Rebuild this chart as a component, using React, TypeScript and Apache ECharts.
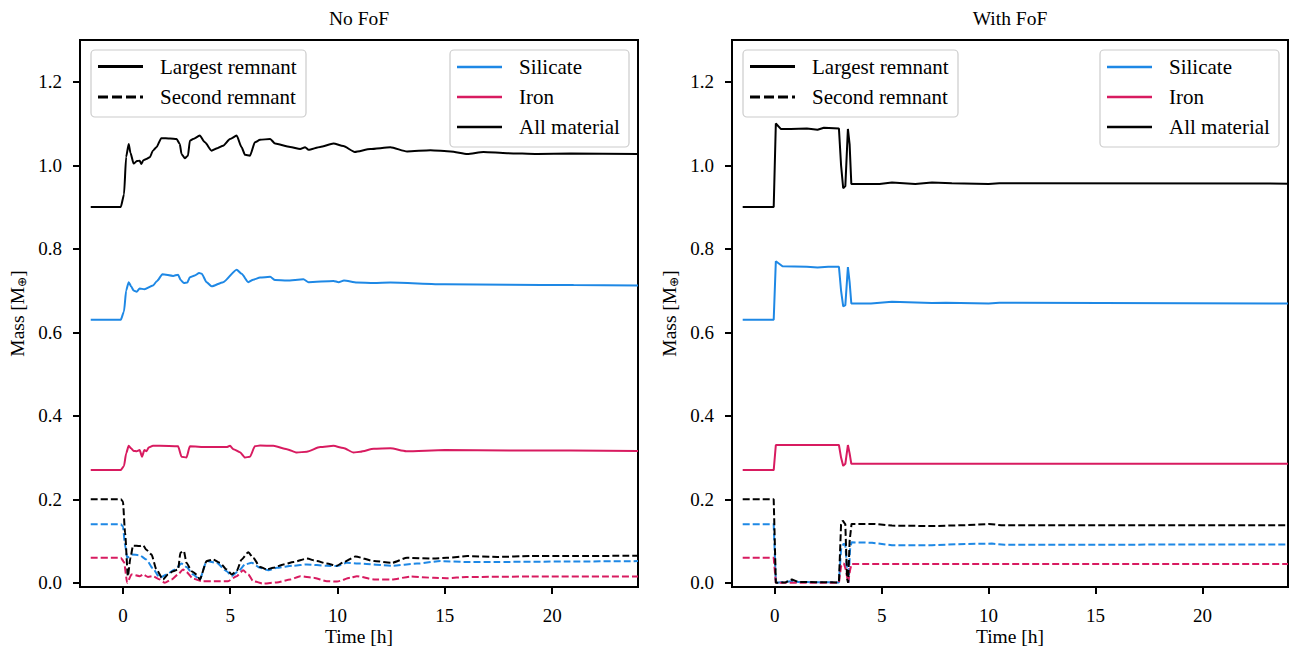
import React, { useEffect, useRef } from "react";
import * as echarts from "echarts";

// ---------- Data (time in hours, mass in Earth masses) ----------
const xTicks = [0, 5, 10, 15, 20];
const yTicks = [0, 0.2, 0.4, 0.6, 0.8, 1.0, 1.2];
const panelTitles = ["No FoF", "With FoF"];
const styleLegend = ["Largest remnant", "Second remnant"];
const materialLegend = ["Silicate", "Iron", "All material"];

// No FoF — largest remnant
const noFofLargestAll: [number, number][] = [
  [-1.5, 0.9], [-0.1, 0.9], [0.05, 0.93], [0.15, 1.02], [0.27, 1.051], [0.35, 1.03], [0.5, 1.004], [0.65, 1.01],
  [0.78, 1.011], [0.86, 1.003], [0.95, 1.012], [1.09, 1.015], [1.25, 1.019], [1.4, 1.035], [1.56, 1.043], [1.79, 1.065],
  [2.2, 1.064], [2.5, 1.063], [2.65, 1.051], [2.73, 1.027], [2.88, 1.017], [3.03, 1.023], [3.12, 1.059], [3.27, 1.063],
  [3.58, 1.071], [3.82, 1.055], [4.13, 1.035], [4.4, 1.041], [4.67, 1.047], [4.99, 1.063], [5.3, 1.071], [5.53, 1.043],
  [5.69, 1.025], [5.92, 1.023], [6.15, 1.055], [6.39, 1.061], [6.86, 1.063], [7.09, 1.052], [7.79, 1.044], [8.26, 1.039],
  [8.49, 1.043], [8.65, 1.037], [9.19, 1.044], [9.81, 1.052], [10.27, 1.046], [10.8, 1.032], [11.53, 1.039], [12.46, 1.043],
  [13.24, 1.033], [14.33, 1.036], [15.27, 1.033], [16.05, 1.027], [16.8, 1.032], [17.9, 1.029], [19.3, 1.027], [20.87, 1.028],
  [24, 1.027],
];
const noFofLargestSilicate: [number, number][] = [
  [-1.5, 0.63], [-0.1, 0.63], [0.05, 0.65], [0.15, 0.7], [0.27, 0.72], [0.38, 0.71], [0.5, 0.7], [0.64, 0.697], [0.78, 0.705],
  [1.0, 0.703], [1.4, 0.712], [1.59, 0.723], [1.84, 0.739], [2.34, 0.735], [2.57, 0.738], [2.69, 0.725], [2.84, 0.718],
  [3.0, 0.719], [3.12, 0.732], [3.35, 0.736], [3.55, 0.742], [3.67, 0.74], [3.9, 0.72], [4.13, 0.71], [4.67, 0.72],
  [5.3, 0.75], [5.53, 0.74], [5.84, 0.72], [6.07, 0.726], [6.39, 0.731], [6.86, 0.733], [7.09, 0.725], [7.64, 0.724],
  [8.41, 0.727], [8.65, 0.72], [9.81, 0.723], [10.05, 0.72], [10.3, 0.724], [10.9, 0.719], [11.69, 0.718], [12.46, 0.719],
  [15, 0.715], [18, 0.714], [21, 0.713], [24, 0.712],
];
const noFofLargestIron: [number, number][] = [
  [-1.5, 0.27], [-0.1, 0.27], [0.05, 0.28], [0.15, 0.31], [0.27, 0.328], [0.38, 0.322], [0.5, 0.316], [0.64, 0.315],
  [0.78, 0.318], [0.89, 0.302], [1.0, 0.318], [1.1, 0.315], [1.2, 0.324], [1.4, 0.328], [1.72, 0.328], [2.57, 0.327],
  [2.73, 0.302], [2.96, 0.3], [3.12, 0.327], [3.9, 0.325], [4.83, 0.325], [4.99, 0.328], [5.15, 0.32], [5.45, 0.313],
  [5.69, 0.3], [5.92, 0.302], [6.15, 0.327], [6.39, 0.329], [7.01, 0.328], [7.64, 0.32], [8.1, 0.312], [8.57, 0.314],
  [9.19, 0.325], [9.81, 0.328], [10.27, 0.323], [10.75, 0.312], [11.06, 0.314], [11.69, 0.321], [12.46, 0.322],
  [13.2, 0.315], [15, 0.318], [18, 0.317], [24, 0.316],
];
// No FoF — second remnant
const noFofSecondAll: [number, number][] = [
  [-1.5, 0.2], [-0.1, 0.2], [0.0, 0.195], [0.1, 0.12], [0.23, 0.016], [0.35, 0.06], [0.47, 0.089], [0.78, 0.088],
  [0.94, 0.09], [1.09, 0.079], [1.33, 0.068], [1.56, 0.032], [1.87, 0.008], [2.1, 0.02], [2.34, 0.028], [2.57, 0.032],
  [2.68, 0.072], [2.84, 0.076], [2.96, 0.048], [3.2, 0.028], [3.43, 0.02], [3.58, 0.008], [3.9, 0.052], [4.2, 0.056],
  [4.52, 0.048], [4.83, 0.032], [5.07, 0.02], [5.3, 0.028], [5.53, 0.056], [5.84, 0.073], [6.07, 0.06], [6.39, 0.038],
  [6.7, 0.032], [7.0, 0.036], [7.48, 0.044], [7.95, 0.05], [8.57, 0.058], [9.04, 0.052], [9.5, 0.046], [9.97, 0.041],
  [10.27, 0.049], [10.83, 0.063], [11.7, 0.052], [12.54, 0.048], [13.24, 0.06], [14.48, 0.058], [15.1, 0.06],
  [16.05, 0.064], [17.45, 0.062], [19, 0.064], [20.6, 0.064], [24, 0.065],
];
const noFofSecondSilicate: [number, number][] = [
  [-1.5, 0.14], [-0.1, 0.14], [0.0, 0.135], [0.1, 0.09], [0.2, 0.06], [0.4, 0.068], [0.78, 0.066], [1.09, 0.056],
  [1.4, 0.034], [1.72, 0.012], [2.03, 0.02], [2.42, 0.032], [2.73, 0.046], [2.96, 0.038], [3.27, 0.02], [3.58, 0.008],
  [3.9, 0.052], [4.36, 0.048], [4.83, 0.028], [5.07, 0.016], [5.38, 0.028], [5.69, 0.044], [6.0, 0.048], [6.39, 0.036],
  [6.78, 0.03], [7.17, 0.036], [7.95, 0.041], [8.57, 0.044], [9.5, 0.041], [9.97, 0.04], [10.43, 0.048], [11.06, 0.046],
  [12.54, 0.041], [13.7, 0.046], [14.8, 0.052], [16, 0.05], [17.45, 0.05], [20.6, 0.051], [24, 0.052],
];
const noFofSecondIron: [number, number][] = [
  [-1.5, 0.06], [-0.1, 0.06], [0.05, 0.05], [0.2, 0.0], [0.4, 0.02], [0.78, 0.016], [0.94, 0.02], [1.17, 0.014],
  [1.4, 0.016], [1.72, 0.008], [1.95, 0.0], [2.26, 0.008], [2.57, 0.02], [2.8, 0.032], [2.96, 0.026], [3.27, 0.01],
  [3.66, 0.004], [4.36, 0.004], [4.9, 0.004], [5.3, 0.016], [5.6, 0.03], [5.84, 0.02], [6.07, 0.004], [6.55, -0.002],
  [7.17, 0.001], [7.8, 0.008], [8.26, 0.016], [8.88, 0.012], [9.5, 0.004], [9.97, 0.003], [10.6, 0.012], [10.9, 0.016],
  [11.7, 0.008], [12.54, 0.008], [13.4, 0.015], [14.48, 0.012], [15.1, 0.011], [16, 0.014], [19, 0.015], [24, 0.015],
];
// With FoF — largest remnant
const fofLargestAll: [number, number][] = [
  [-1.5, 0.9], [-0.05, 0.9], [0.05, 1.1], [0.28, 1.087], [0.75, 1.087], [1.5, 1.088], [2.0, 1.085], [2.3, 1.09],
  [3.0, 1.088], [3.1, 1.0], [3.2, 0.945], [3.3, 0.95], [3.42, 1.087], [3.5, 1.05], [3.58, 0.955], [4.9, 0.955],
  [5.48, 0.959], [6.57, 0.955], [7.35, 0.959], [8.28, 0.957], [10, 0.955], [10.5, 0.957], [24, 0.956],
];
const fofLargestSilicate: [number, number][] = [
  [-1.5, 0.63], [-0.05, 0.63], [0.05, 0.77], [0.36, 0.758], [1.5, 0.757], [2.0, 0.755], [2.5, 0.757], [3.0, 0.757],
  [3.1, 0.7], [3.2, 0.662], [3.3, 0.665], [3.42, 0.756], [3.5, 0.72], [3.58, 0.669], [4.5, 0.669], [5.48, 0.673],
  [7.35, 0.67], [8, 0.671], [10, 0.669], [10.5, 0.671], [24, 0.669],
];
const fofLargestIron: [number, number][] = [
  [-1.5, 0.27], [-0.05, 0.27], [0.05, 0.33], [3.0, 0.33], [3.1, 0.3], [3.2, 0.28], [3.3, 0.285], [3.42, 0.33],
  [3.5, 0.31], [3.58, 0.285], [24, 0.285],
];
// With FoF — second remnant
const fofSecondAll: [number, number][] = [
  [-1.5, 0.2], [-0.05, 0.2], [0.05, 0.0], [0.5, 0.001], [0.8, 0.008], [1.1, 0.002], [3.0, 0.001], [3.1, 0.14],
  [3.18, 0.149], [3.3, 0.14], [3.38, 0.01], [3.43, 0.0], [3.5, 0.1], [3.59, 0.141], [4.7, 0.141], [5.48, 0.137],
  [7.35, 0.136], [8.9, 0.138], [10.0, 0.141], [10.6, 0.138], [24, 0.138],
];
const fofSecondSilicate: [number, number][] = [
  [-1.5, 0.14], [-0.05, 0.14], [0.05, 0.0], [0.8, 0.004], [1.1, 0.002], [3.0, 0.001], [3.1, 0.08], [3.22, 0.094],
  [3.3, 0.09], [3.4, 0.02], [3.45, 0.0], [3.52, 0.08], [3.59, 0.097], [4.55, 0.096], [5.48, 0.09], [7.35, 0.09],
  [8.9, 0.093], [10.15, 0.094], [10.75, 0.091], [24, 0.092],
];
const fofSecondIron: [number, number][] = [
  [-1.5, 0.06], [-0.05, 0.06], [0.05, 0.0], [3.0, 0.0], [3.1, 0.04], [3.23, 0.047], [3.33, 0.03], [3.43, 0.0],
  [3.52, 0.03], [3.59, 0.045], [24, 0.045],
];

// ---------- Styling ----------
const FONT = "Liberation Serif";
const SILICATE = "#1E88E5";
const IRON = "#D81B60";
const ALL = "#000000";
const DASH = [7, 3];
const TICK_FS = 19;
const LABEL_FS = 19.5;
const LEGEND_FS = 21;

const grids = [
  { left: 80, top: 40, width: 558, height: 547 },
  { left: 732, top: 40, width: 556, height: 547 },
];

const tickRich = { t: { fontFamily: FONT, fontSize: TICK_FS, color: "#000", lineHeight: 17 } };

function lineSeries(data: [number, number][], color: string, dashed: boolean, idx: number, z: number) {
  return {
    type: "line",
    xAxisIndex: idx,
    yAxisIndex: idx,
    data,
    showSymbol: false,
    symbol: "none",
    smooth: idx === 0 ? 0.2 : false,
    smoothMonotone: "x",
    z,
    lineStyle: { color, width: 2, type: dashed ? DASH : "solid" },
    emphasis: { disabled: true },
  };
}

function legendGraphics(gl: number, gr: number) {
  const els: any[] = [];
  const b1x = gl + 11;
  els.push({
    type: "rect",
    shape: { x: b1x, y: 50, width: 215, height: 67, r: 4 },
    style: { fill: "rgba(255,255,255,0.8)", stroke: "#cccccc", lineWidth: 1.2 },
    z: 100,
  });
  const l1y = [66.5, 97];
  styleLegend.forEach((name, i) => {
    els.push({
      type: "line",
      shape: { x1: b1x + 7, y1: l1y[i], x2: b1x + 52, y2: l1y[i] },
      style: { stroke: "#000", lineWidth: 3, lineDash: i === 1 ? [10, 4] : null },
      z: 101,
    });
    els.push({
      type: "text",
      x: b1x + 69,
      y: l1y[i],
      style: { text: name, font: `${LEGEND_FS}px ${FONT}`, fill: "#000", verticalAlign: "middle" },
      z: 101,
    });
  });
  const b2x = gr - 188;
  els.push({
    type: "rect",
    shape: { x: b2x, y: 50, width: 179, height: 97, r: 4 },
    style: { fill: "rgba(255,255,255,0.8)", stroke: "#cccccc", lineWidth: 1.2 },
    z: 100,
  });
  const l2y = [67, 97, 127];
  const cols = [SILICATE, IRON, ALL];
  materialLegend.forEach((name, i) => {
    els.push({
      type: "line",
      shape: { x1: b2x + 7, y1: l2y[i], x2: b2x + 52, y2: l2y[i] },
      style: { stroke: cols[i], lineWidth: 2.6 },
      z: 101,
    });
    els.push({
      type: "text",
      x: b2x + 69,
      y: l2y[i],
      style: { text: name, font: `${LEGEND_FS}px ${FONT}`, fill: "#000", verticalAlign: "middle" },
      z: 101,
    });
  });
  return els;
}

export default function App() {
  const ref = useRef<HTMLDivElement>(null);
  useEffect(() => {
    if (!ref.current) return;
    const chart = echarts.init(ref.current, undefined, { renderer: "svg" });
    const textStyle = { fontFamily: FONT, color: "#000" };

    const xAxes = grids.map((g, i) => ({
      type: "value",
      gridIndex: i,
      position: "bottom",
      min: -2,
      max: 24,
      axisLine: { show: false, onZero: false },
      axisTick: { show: true, length: 7, lineStyle: { color: "#000", width: 2 }, customValues: xTicks },
      axisLabel: {
        customValues: xTicks,
        fontSize: TICK_FS,
        fontFamily: FONT,
        color: "#000",
        margin: 20,
        formatter: (v: number) => `{t|${v}}`,
        rich: tickRich,
      },
      splitLine: { show: false },
      name: "Time [h]",
      nameLocation: "middle",
      nameGap: 41,
      nameMoveOverlap: false,
      nameTextStyle: { fontSize: LABEL_FS, fontFamily: FONT, color: "#000", lineHeight: 17 },
    }));
    const yAxes = grids.map((g, i) => ({
      type: "value",
      gridIndex: i,
      position: "left",
      min: -0.01,
      max: 1.3,
      axisLine: { show: false, onZero: false },
      axisTick: { show: true, length: 7, lineStyle: { color: "#000", width: 2 }, customValues: yTicks },
      axisLabel: {
        customValues: yTicks,
        fontSize: TICK_FS,
        fontFamily: FONT,
        color: "#000",
        margin: 18,
        formatter: (v: number) => `{t|${v.toFixed(1)}}`,
        rich: tickRich,
      },
      splitLine: { show: false },
      name: "Mass [M{s|⊕}]",
      nameLocation: "middle",
      nameRotate: 90,
      nameGap: 52,
      nameTextStyle: {
        fontSize: LABEL_FS,
        fontFamily: FONT,
        color: "#000",
        rich: { s: { fontSize: 12, fontFamily: FONT, color: "#000", verticalAlign: "bottom", padding: [10, 0, 0, 0] } },
      },
    }));

    const series = [
      lineSeries(noFofLargestSilicate, SILICATE, false, 0, 2),
      lineSeries(noFofLargestIron, IRON, false, 0, 2),
      lineSeries(noFofLargestAll, ALL, false, 0, 3),
      lineSeries(noFofSecondSilicate, SILICATE, true, 0, 2),
      lineSeries(noFofSecondIron, IRON, true, 0, 2),
      lineSeries(noFofSecondAll, ALL, true, 0, 3),
      lineSeries(fofLargestSilicate, SILICATE, false, 1, 2),
      lineSeries(fofLargestIron, IRON, false, 1, 2),
      lineSeries(fofLargestAll, ALL, false, 1, 3),
      lineSeries(fofSecondSilicate, SILICATE, true, 1, 2),
      lineSeries(fofSecondIron, IRON, true, 1, 2),
      lineSeries(fofSecondAll, ALL, true, 1, 3),
    ];

    const graphics: any[] = [];
    grids.forEach((g, i) => {
      graphics.push({
        type: "text",
        x: g.left + g.width / 2,
        y: 18,
        style: { text: panelTitles[i], font: `${LABEL_FS}px ${FONT}`, fill: "#000", align: "center", verticalAlign: "middle" },
      });
      graphics.push(...legendGraphics(g.left, g.left + g.width));
    });

    chart.setOption({
      animation: false,
      textStyle,
      grid: grids.map((g) => ({
        ...g,
        show: true,
        borderColor: "#000",
        borderWidth: 2,
        backgroundColor: "transparent",
        containLabel: false,
        outerBoundsMode: "none",
      })),
      xAxis: xAxes,
      yAxis: yAxes,
      series,
      graphic: graphics,
    });
    return () => chart.dispose();
  }, []);
  return <div ref={ref} style={{ position: "fixed", left: 0, top: 0, width: 1290, height: 647, background: "#fff" }} />;
}
